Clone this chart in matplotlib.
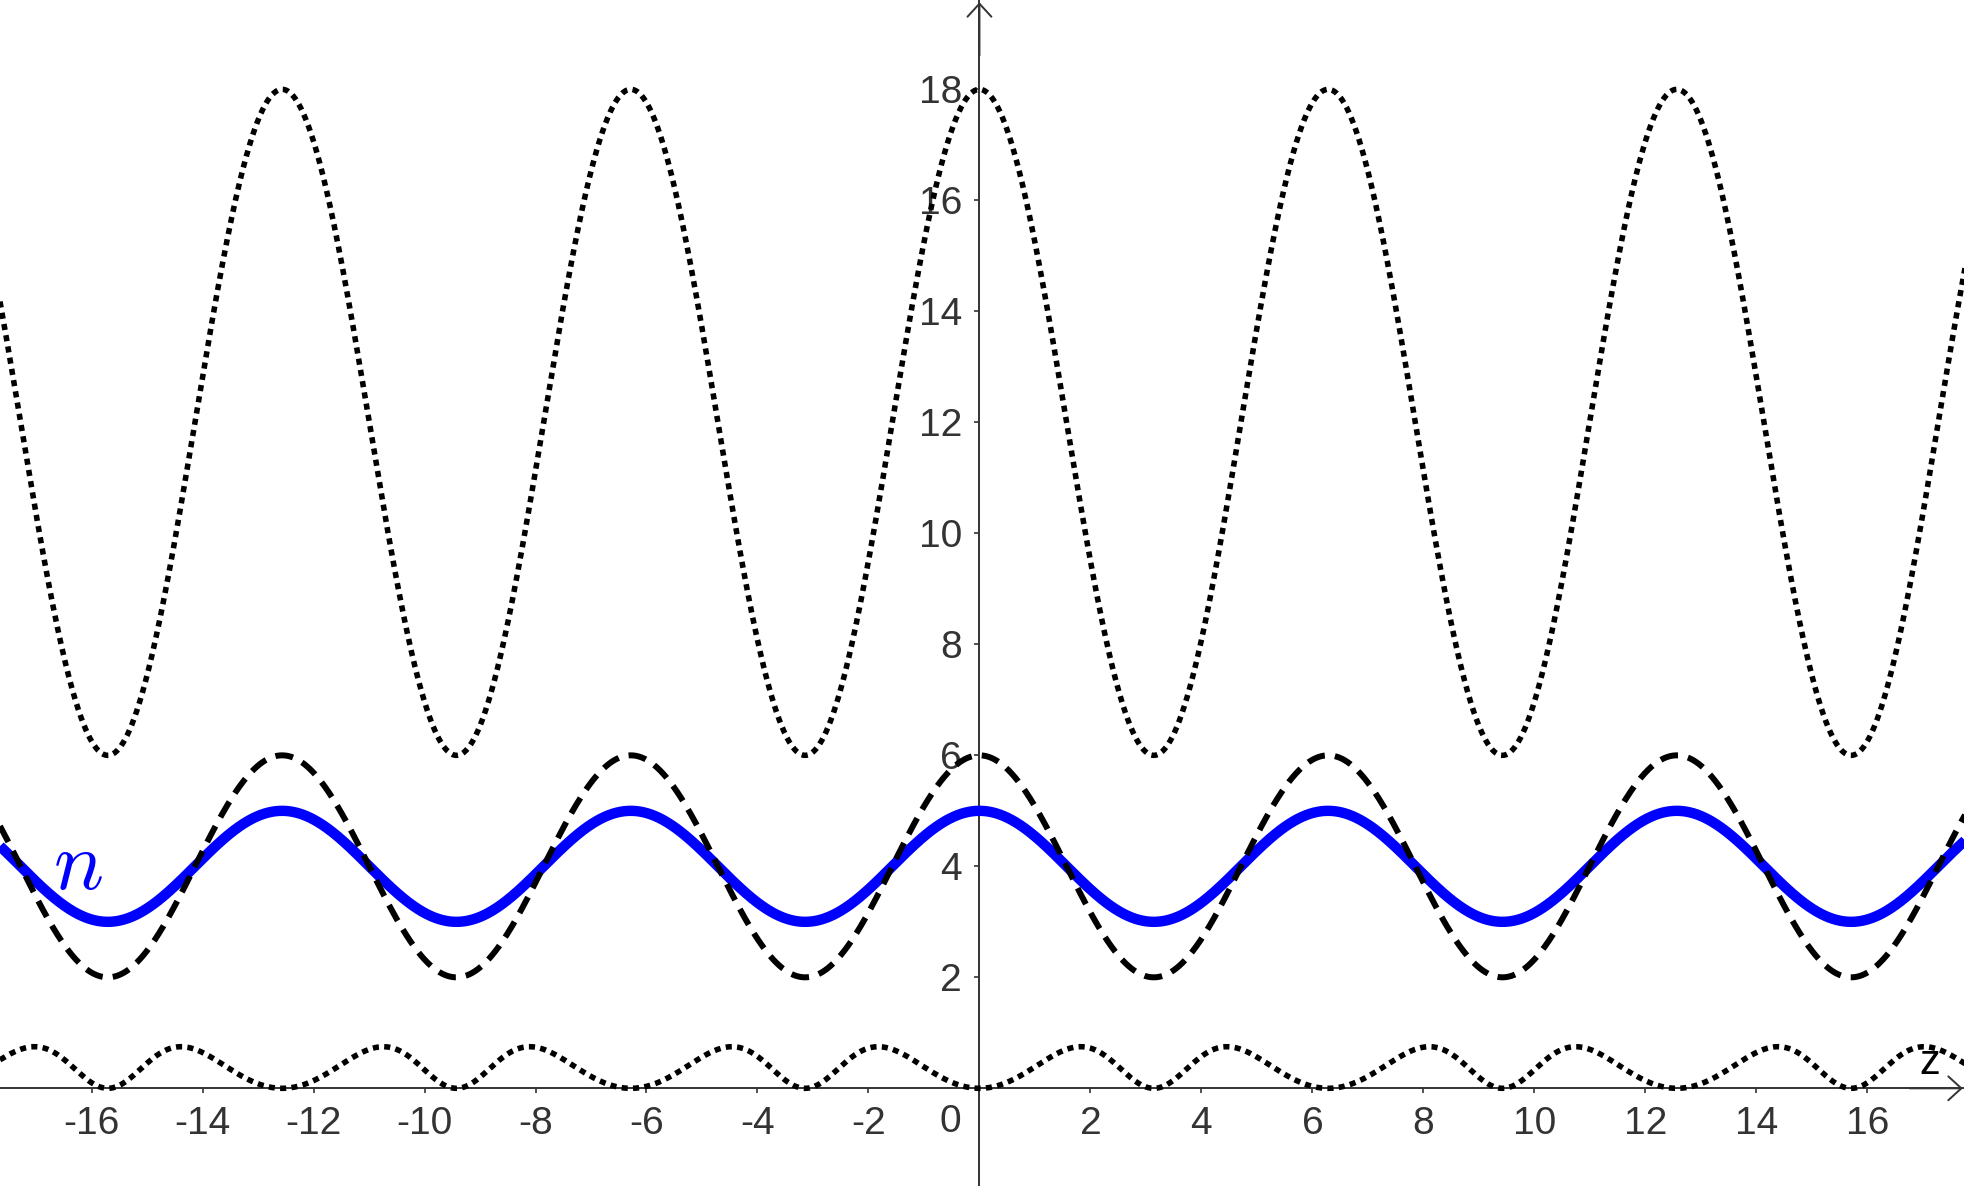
import numpy as np
import matplotlib.pyplot as plt

# view window of the GeoGebra graph (data units)
z_lim = [-17.65, 17.76]
y_lim = [-1.76, 19.61]

x_ticks = [-16, -14, -12, -10, -8, -6, -4, -2, 2, 4, 6, 8, 10, 12, 14, 16]
y_ticks = [2, 4, 6, 8, 10, 12, 14, 16, 18]

# curve parameters: offset and amplitude of the cosines
n_offset, n_amp = 4, 1          # blue n(z): 3..5
dash_offset, dash_amp = 4, 2    # dashed: 2..6
big_offset, big_amp = 12, 6     # big dotted: 6..18
small_scale = 11.25             # small dotted bumps, peak ~0.75

axis_col = '#333333'

z = np.linspace(z_lim[0], z_lim[1], 3000)
n = n_offset + n_amp * np.cos(z)
dashed = dash_offset + dash_amp * np.cos(z)
big = big_offset + big_amp * np.cos(z)
small = small_scale * np.sin(z) ** 2 / n ** 2

fig = plt.figure(figsize=(19.65, 11.86), dpi=100)
ax = fig.add_axes([0, 0, 1, 1])
ax.set_xlim(z_lim)
ax.set_ylim(y_lim)

dots = (0, (1.1, 0.95))
ax.plot(z, big, color='black', lw=4.0, linestyle=dots, zorder=3)
ax.plot(z, small, color='black', lw=4.0, linestyle=dots, zorder=3)
ax.plot(z, n, color='#0000ff', lw=7.5, solid_capstyle='butt', zorder=3)
ax.plot(z, dashed, color='black', lw=4.3, linestyle=(0, (3, 1.7)), zorder=4)

# axes through the origin
for s in ['top', 'right']:
    ax.spines[s].set_visible(False)
ax.spines['left'].set_position(('data', 0))
ax.spines['bottom'].set_position(('data', 0))
for s in ['left', 'bottom']:
    ax.spines[s].set_color(axis_col)
    ax.spines[s].set_linewidth(1.4)
    ax.spines[s].set_zorder(2)

arrow = dict(arrowstyle='->, head_length=0.47, head_width=0.43', color=axis_col,
             lw=1.4, shrinkA=0, shrinkB=0, mutation_scale=20)
ax.annotate('', xy=(z_lim[1] - 0.04, 0), xytext=(z_lim[1] - 1, 0), arrowprops=arrow)
ax.annotate('', xy=(0, y_lim[1] - 0.04), xytext=(0, y_lim[1] - 1), arrowprops=arrow)

ax.set_xticks(x_ticks)
ax.set_xticklabels([str(t) for t in x_ticks])
ax.set_yticks(y_ticks)
ax.set_yticklabels([str(t) for t in y_ticks])
ax.tick_params(direction='out', length=3.6, width=1.2, color=axis_col,
               labelcolor=axis_col, labelsize=28, pad=9)
for lab in ax.get_xticklabels() + ax.get_yticklabels():
    lab.set_family('Liberation Sans')

ax.text(-0.53, -0.6, '0', fontsize=28, color=axis_col, family='Liberation Sans',
        ha='center', va='center')
ax.text(17.13, 0.46, 'z', fontsize=30, color='black', family='Liberation Sans',
        ha='center', va='center')

plt.rcParams['mathtext.fontset'] = 'cm'
ax.text(-16.24, 4.02, '$n$', fontsize=60, color='#0000ff', ha='center', va='center')

fig.savefig('out.png', dpi=100)
